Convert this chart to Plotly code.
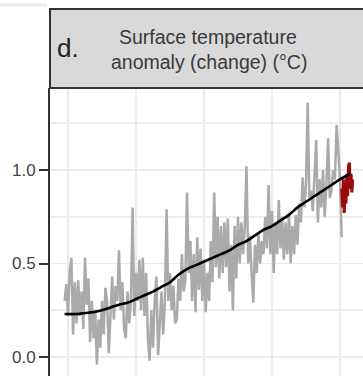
import plotly.graph_objects as go

# ---------------- data ----------------
grey_years = list(range(1858, 2022))
grey_values = [
    0.30, 0.39, 0.22, 0.45, 0.53, 0.12, 0.40, 0.18, 0.41, 0.22,
    0.35, 0.15, 0.53, 0.28, 0.42, 0.08, 0.30, 0.10, 0.25, -0.04,
    0.20, 0.05, 0.30, 0.12, 0.37, 0.30, 0.02, 0.25, 0.43, 0.20,
    0.38, 0.30, 0.57, 0.25, 0.40, 0.15, 0.10, 0.35, 0.18, 0.30,
    0.80, 0.22, 0.45, 0.30, 0.52, 0.25, 0.53, 0.22, 0.45, 0.10,
    -0.02, 0.25, 0.05, 0.30, 0.43, 0.01, 0.20, 0.35, 0.12, 0.30,
    0.79, 0.30, 0.45, 0.25, 0.38, 0.18, 0.20, 0.42, 0.30, 0.55,
    0.35, 0.40, 0.88, 0.45, 0.62, 0.30, 0.55, 0.24, 0.64, 0.36,
    0.58, 0.30, 0.52, 0.24, 0.45, 0.30, 0.62, 0.40, 0.88, 0.48,
    0.75, 0.42, 0.70, 0.45, 0.72, 0.48, 0.74, 0.35, 0.60, 0.25,
    0.70, 0.42, 0.75, 0.50, 0.72, 0.55, 0.70, 1.02, 0.50, 0.65,
    0.45, 0.29, 0.60, 0.45, 0.66, 0.50, 0.62, 0.55, 0.75, 0.58,
    0.92, 0.55, 0.78, 0.45, 0.72, 0.55, 0.84, 0.58, 0.75, 0.52,
    0.72, 0.55, 0.77, 0.50, 0.70, 0.55, 0.76, 0.60, 0.82, 0.72,
    0.96, 0.80, 0.92, 1.36, 0.85, 0.89, 0.78, 0.95, 1.16, 0.72,
    0.95, 0.80, 1.00, 0.75, 0.92, 1.17, 0.85, 0.89, 1.00, 0.95,
    1.24, 1.10, 0.95, 0.64,
]

red_years = [2021.0, 2021.5, 2022.0, 2022.5, 2023.0, 2023.5, 2024.0,
             2024.5, 2025.0, 2025.5, 2026.0, 2026.5, 2027.0, 2027.5]
red_values = [0.90, 0.80, 0.95, 0.77, 0.92, 0.82, 0.98,
              0.86, 1.02, 1.04, 0.90, 0.98, 0.88, 0.95]

trend_years = [1858, 1865, 1870, 1875, 1880, 1885, 1890, 1895, 1900, 1905,
               1910, 1915, 1920, 1925, 1930, 1935, 1940, 1945, 1950, 1955,
               1960, 1965, 1970, 1975, 1980, 1985, 1990, 1995, 2000, 2005,
               2010, 2015, 2020, 2026]
trend_values = [0.23, 0.23, 0.235, 0.24, 0.25, 0.265, 0.28, 0.29, 0.31, 0.33,
                0.35, 0.375, 0.40, 0.44, 0.47, 0.49, 0.51, 0.53, 0.55, 0.57,
                0.60, 0.62, 0.65, 0.68, 0.70, 0.73, 0.76, 0.80, 0.83, 0.86,
                0.89, 0.92, 0.95, 0.98]

y_ticks = [0.0, 0.5, 1.0]
y_tick_labels = ["0.0", "0.5", "1.0"]
y_minor = [0.25, 0.75, 1.25]
x_grid = [1860, 1900, 1940, 1980, 2020]

panel_letter = "d."
strip_line1 = "Surface temperature"
strip_line2 = "anomaly (change) (°C)"

# ---------------- figure ----------------
W, H = 363, 376
L, T = 50, 88
PW, PH = W - L, H - T

def px_to_paper_x(px):
    return (px - L) / PW

def py_to_paper_y(py):
    return (H - py) / PH

fig = go.Figure()
fig.add_trace(go.Scatter(x=grey_years, y=grey_values, mode="lines",
                         line=dict(color="#aaaaaa", width=2.5), showlegend=False))
fig.add_trace(go.Scatter(x=red_years, y=red_values, mode="lines",
                         line=dict(color="#9b0a0a", width=3), showlegend=False))
fig.add_trace(go.Scatter(x=trend_years, y=trend_values, mode="lines",
                         line=dict(color="#000000", width=2.6, shape="spline"),
                         showlegend=False))

font_family = "Liberation Sans, Arial, sans-serif"

fig.update_layout(
    width=W, height=H,
    margin=dict(l=L, r=0, t=T, b=0, pad=0),
    paper_bgcolor="white", plot_bgcolor="white",
    font=dict(family=font_family),
    xaxis=dict(range=[1860 + (L - 68) / 1.7, 1860 + (W - 68) / 1.7],
               tickvals=x_grid, showticklabels=False, ticks="",
               showgrid=True, gridcolor="#ebebeb", gridwidth=1.8,
               zeroline=False, showline=False),
    yaxis=dict(range=[(357 - H) / 187.0, (357 - T) / 187.0],
               tickvals=y_ticks, ticktext=y_tick_labels,
               ticks="outside", ticklen=9, tickwidth=2, tickcolor="#333333",
               tickfont=dict(size=17, color="#444444", family=font_family),
               showgrid=True, gridcolor="#ebebeb", gridwidth=1.8,
               minor=dict(tickvals=y_minor, showgrid=True, gridcolor="#ededed",
                          gridwidth=1.6, ticks=""),
               zeroline=False, showline=True, linecolor="#333333", linewidth=2),
)

shapes = []
# strip box
shapes.append(dict(type="rect", xref="paper", yref="paper",
                   x0=0, x1=px_to_paper_x(W + 5),
                   y0=py_to_paper_y(88), y1=py_to_paper_y(9),
                   fillcolor="#d9d9d9", line=dict(color="#333333", width=2),
                   layer="above"))
# faint line at top-left (neighbouring panel)
shapes.append(dict(type="line", xref="paper", yref="paper",
                   x0=px_to_paper_x(0), x1=px_to_paper_x(47),
                   y0=py_to_paper_y(5), y1=py_to_paper_y(5),
                   line=dict(color="#ececec", width=3)))
fig.update_layout(shapes=shapes)

annotations = [
    dict(text=panel_letter, xref="paper", yref="paper",
         x=px_to_paper_x(55), y=py_to_paper_y(48),
         xanchor="left", yanchor="middle", showarrow=False,
         font=dict(size=26, color="#222222", family=font_family)),
    dict(text=strip_line1, xref="paper", yref="paper",
         x=px_to_paper_x(208), y=py_to_paper_y(37),
         xanchor="center", yanchor="middle", showarrow=False,
         font=dict(size=19.5, color="#3a3a3a", family=font_family)),
    dict(text=strip_line2, xref="paper", yref="paper",
         x=px_to_paper_x(209), y=py_to_paper_y(62),
         xanchor="center", yanchor="middle", showarrow=False,
         font=dict(size=19.5, color="#3a3a3a", family=font_family)),
]
fig.update_layout(annotations=annotations)

fig.write_html("out.html",
               config={"displayModeBar": False, "staticPlot": True},
               post_script="document.body.style.margin='0';document.body.style.overflow='hidden';")
